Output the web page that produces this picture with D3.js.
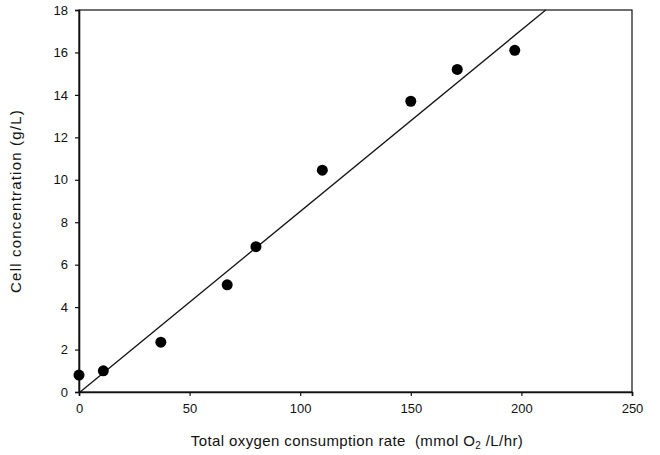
<!DOCTYPE html>
<html>
<head>
<meta charset="utf-8">
<script src="https://cdn.jsdelivr.net/npm/d3@7"></script>
<style>
  body { margin: 0; background: #fff; }
  text { font-family: "Liberation Sans", Arial, sans-serif; fill: #111; }
</style>
</head>
<body>
<script>
// data
var oxygenRate = [0, 11, 37, 67, 80, 110, 150, 171, 197];
var cellConc   = [0.8, 1.0, 2.35, 5.05, 6.85, 10.45, 13.7, 15.2, 16.1];
var fitStart   = [0.5, 0];      // regression line start (x, y)
var fitEnd     = [211, 18];     // regression line end where it meets the top
var xTicks = [0, 50, 100, 150, 200, 250];
var yTicks = [0, 2, 4, 6, 8, 10, 12, 14, 16, 18];

var W = 660, H = 455;
var margin = {left: 79, right: 28, top: 10, bottom: 63};

var svg = d3.select("body").append("svg")
  .attr("width", W).attr("height", H);

var x = d3.scaleLinear().domain([0, 250]).range([margin.left, W - margin.right]);
var y = d3.scaleLinear().domain([0, 18]).range([H - margin.bottom, margin.top]);

// frame
svg.append("rect")
  .attr("x", x(0)).attr("y", y(18))
  .attr("width", x(250) - x(0)).attr("height", y(0) - y(18))
  .attr("fill", "none").attr("stroke", "#111").attr("stroke-width", 1.2);

// axes
var xAxis = svg.append("g")
  .attr("transform", "translate(0," + y(0) + ")")
  .call(d3.axisBottom(x).tickValues(xTicks).tickSize(4).tickPadding(8));
var yAxis = svg.append("g")
  .attr("transform", "translate(" + x(0) + ",0)")
  .call(d3.axisLeft(y).tickValues(yTicks).tickSize(4).tickPadding(7));

[xAxis, yAxis].forEach(function(g){
  g.select(".domain").attr("stroke", "#111").attr("stroke-width", 1.6);
  g.selectAll(".tick line").attr("stroke", "#111").attr("stroke-width", 1.2);
  g.selectAll(".tick text")
    .attr("font-family", "Liberation Sans, Arial, sans-serif")
    .attr("font-size", 13).attr("fill", "#111");
});

// regression line
svg.append("line")
  .attr("x1", x(fitStart[0])).attr("y1", y(fitStart[1]))
  .attr("x2", x(fitEnd[0])).attr("y2", y(fitEnd[1]))
  .attr("stroke", "#111").attr("stroke-width", 1.3);

// points
svg.selectAll("circle.pt")
  .data(oxygenRate)
  .enter().append("circle")
  .attr("class", "pt")
  .attr("cx", function(d){ return x(d); })
  .attr("cy", function(d, i){ return y(cellConc[i]); })
  .attr("r", 5.5)
  .attr("fill", "#000");

// axis titles
svg.append("text")
  .attr("transform", "translate(21," + ((y(0) + y(18)) / 2) + ") rotate(-90)")
  .attr("text-anchor", "middle")
  .attr("font-size", 15)
  .attr("letter-spacing", 1.2)
  .text("Cell concentration (g/L)");

var xt = svg.append("text")
  .attr("x", 357).attr("y", 446)
  .attr("text-anchor", "middle")
  .attr("font-size", 15)
  .attr("letter-spacing", 0.4)
  .attr("xml:space", "preserve");
xt.append("tspan").text("Total oxygen consumption rate  (mmol O");
xt.append("tspan").attr("font-size", 10).attr("dy", 3).text("2");
xt.append("tspan").attr("dy", -3).text(" /L/hr)");
</script>
</body>
</html>
